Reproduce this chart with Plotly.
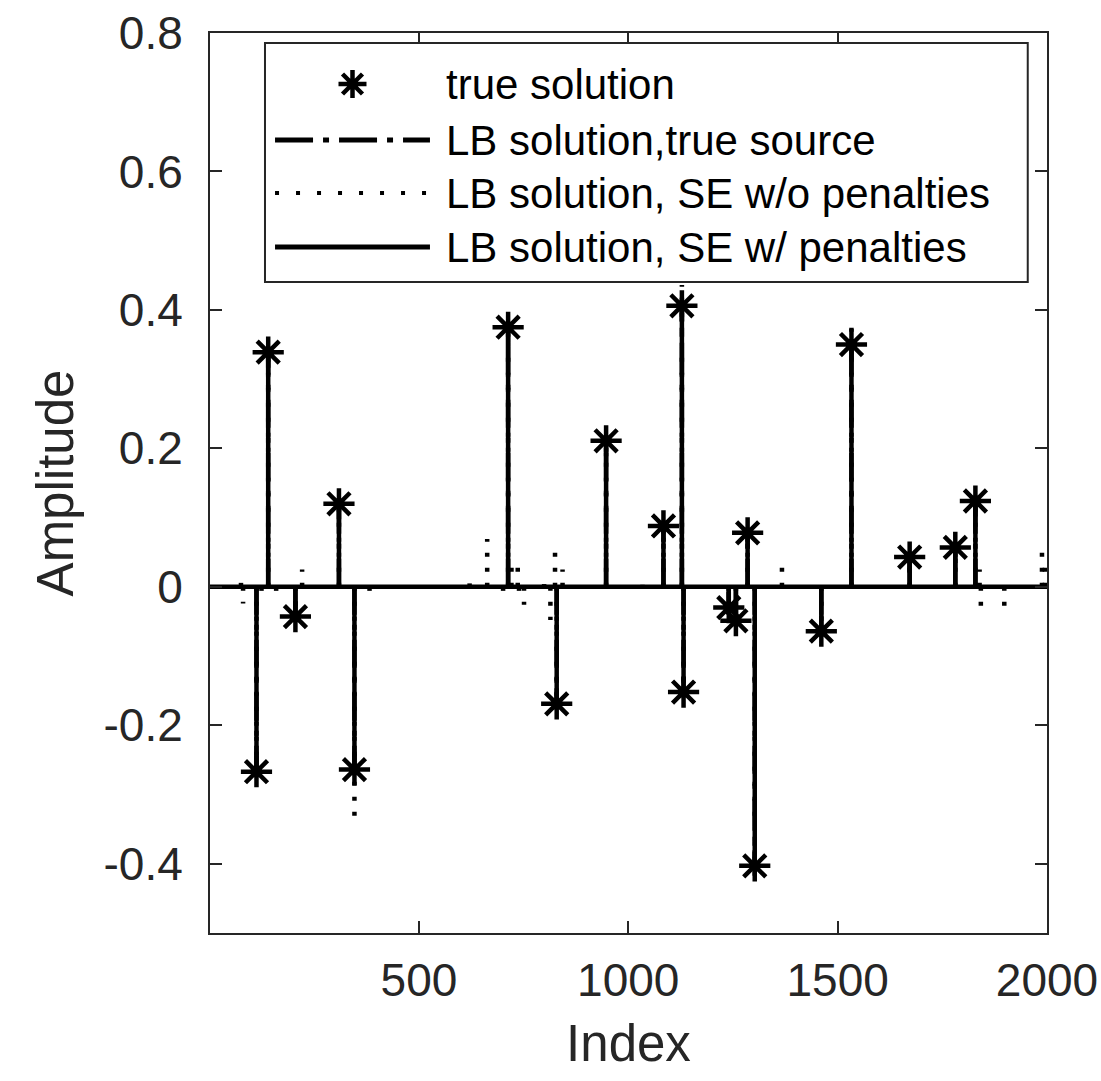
import plotly.graph_objects as go

# ---------------- data ----------------
true_idx = [112, 140, 205, 309, 346, 713, 829, 947, 1084, 1128, 1132, 1240, 1257,
            1285, 1302, 1461, 1533, 1672, 1781, 1829]
true_val = [-0.267, 0.339, -0.043, 0.120, -0.264, 0.375, -0.169, 0.211, 0.088, 0.406,
            -0.152, -0.030, -0.049, 0.078, -0.403, -0.064, 0.350, 0.043, 0.057, 0.124]

# LB solution with the true source (practically identical to the true solution)
lb_true_idx = list(true_idx)
lb_true_val = [-0.266, 0.338, -0.043, 0.119, -0.265, 0.374, -0.168, 0.210, 0.088, 0.405,
               -0.151, -0.030, -0.048, 0.078, -0.402, -0.064, 0.349, 0.043, 0.057, 0.123]

# LB solution, SE without penalties (overshoots + spurious spikes)
lb_nopen_idx = [75, 80, 112, 124, 140, 159, 205, 221, 309, 346, 382, 621, 663, 701, 713,
                721, 736, 739, 751, 799, 814, 825, 829, 843, 947, 1034, 1084, 1128, 1132,
                1240, 1257, 1285, 1302, 1367, 1461, 1533, 1672, 1781, 1829, 1839, 1842,
                1898, 1988, 1995]
lb_nopen_val = [0.020, -0.024, -0.270, -0.016, 0.340, -0.010, -0.043, 0.025, 0.120, -0.345,
                -0.020, 0.005, 0.069, -0.012, 0.376, 0.042, 0.040, -0.018, -0.026, 0.004,
                -0.048, 0.062, -0.170, 0.025, 0.211, 0.003, 0.088, 0.436, -0.153, -0.031,
                -0.050, 0.079, -0.432, 0.042, -0.064, 0.388, 0.043, 0.057, 0.124, 0.025,
                -0.036, -0.033, 0.058, 0.030]

# LB solution, SE with penalties
lb_pen_idx = list(true_idx)
lb_pen_val = list(true_val)

x_limits = [1, 2000]
y_limits = [-0.5, 0.8]
x_ticks = [500, 1000, 1500, 2000]
x_ticktext = ["500", "1000", "1500", "2000"]
y_ticks = [-0.4, -0.2, 0, 0.2, 0.4, 0.6, 0.8]
y_ticktext = ["-0.4", "-0.2", "0", "0.2", "0.4", "0.6", "0.8"]

legend_labels = ["true solution", "LB solution,true source",
                 "LB solution, SE w/o penalties", "LB solution, SE w/ penalties"]


def stems(idx, val):
    xs, ys = [], []
    for i, v in zip(idx, val):
        xs += [i, i, None]
        ys += [0, v, None]
    return xs, ys


FONT = "Liberation Sans, Arial, Helvetica, sans-serif"
BLACK = "#000000"
AX = "#262626"
LW = 4.5

fig = go.Figure()

# true solution: asterisk markers
fig.add_trace(go.Scatter(
    x=true_idx, y=true_val, mode="markers",
    marker=dict(symbol="asterisk-open", size=26, color=BLACK,
                line=dict(color=BLACK, width=4.5)),
    showlegend=False, hoverinfo="skip"))

# LB solution, true source (dash-dot stems)
sx, sy = stems(lb_true_idx, lb_true_val)
fig.add_trace(go.Scatter(x=sx, y=sy, mode="lines",
                         line=dict(color=BLACK, width=LW, dash="28px,10px,5px,10px"),
                         showlegend=False, hoverinfo="skip"))

# LB solution, SE w/o penalties (dotted stems)
sx, sy = stems(lb_nopen_idx, lb_nopen_val)
fig.add_trace(go.Scatter(x=sx, y=sy, mode="lines",
                         line=dict(color=BLACK, width=LW, dash="4px,11px"),
                         showlegend=False, hoverinfo="skip"))

# LB solution, SE w/ penalties (solid stems)
sx, sy = stems(lb_pen_idx, lb_pen_val)
fig.add_trace(go.Scatter(x=sx, y=sy, mode="lines",
                         line=dict(color=BLACK, width=LW),
                         showlegend=False, hoverinfo="skip"))

# stem baseline
fig.add_trace(go.Scatter(x=x_limits, y=[0, 0], mode="lines",
                         line=dict(color=BLACK, width=LW),
                         showlegend=False, hoverinfo="skip"))

# ---------------- manual legend (layout decoration) ----------------
box_x0, box_x1 = 0.0657, 0.977
box_y0, box_y1 = 0.7233, 0.9889
row_y = [0.9433, 0.8811, 0.8222, 0.7622]
samp_x0, samp_x1 = 0.0777, 0.2628
text_x = 0.280

shapes = [dict(type="rect", xref="paper", yref="paper",
               x0=box_x0, x1=box_x1, y0=box_y0, y1=box_y1,
               line=dict(color=AX, width=2), fillcolor="white", layer="above")]
# asterisk sample
shapes.append(dict(type="path", xref="paper", yref="paper",
                   xsizemode="pixel", ysizemode="pixel",
                   xanchor=(samp_x0 + samp_x1) / 2, yanchor=row_y[0],
                   path="M0,14 L0,-14 M14,0 L-14,0 M10,10 L-10,-10 M10,-10 L-10,10",
                   line=dict(color=BLACK, width=4.5), layer="above"))
dashes = ["38px,10px,6px,10px", "4px,17px", "solid"]
for k, d in enumerate(dashes):
    shapes.append(dict(type="line", xref="paper", yref="paper",
                       x0=samp_x0, x1=samp_x1, y0=row_y[k + 1], y1=row_y[k + 1],
                       line=dict(color=BLACK, width=5 if d != "4px,17px" else 4, dash=d),
                       layer="above"))

annotations = []
for k, lab in enumerate(legend_labels):
    annotations.append(dict(text=lab, xref="paper", yref="paper", x=text_x, y=row_y[k],
                            xanchor="left", yanchor="middle", showarrow=False,
                            font=dict(family=FONT, size=42, color=BLACK)))

axis_common = dict(showline=True, linecolor=AX, linewidth=2, mirror="ticks",
                   ticks="inside", ticklen=12, tickwidth=2, tickcolor=AX,
                   showgrid=False, zeroline=False, automargin=False,
                   tickfont=dict(family=FONT, size=46, color=AX))

fig.update_layout(
    width=1101, height=1081,
    margin=dict(l=210, r=54, t=33, b=148),
    paper_bgcolor="white", plot_bgcolor="white",
    shapes=shapes, annotations=annotations,
    xaxis=dict(range=x_limits, tickvals=x_ticks, ticktext=x_ticktext,
               title=dict(text="Index", font=dict(family=FONT, size=51, color=AX),
                          standoff=20),
               ticklabelstandoff=6, **axis_common),
    yaxis=dict(range=y_limits, tickvals=y_ticks, ticktext=y_ticktext,
               title=dict(text="Amplitude", font=dict(family=FONT, size=51, color=AX),
                          standoff=14),
               ticklabelstandoff=16, **axis_common),
)

fig.write_html("out.html")
